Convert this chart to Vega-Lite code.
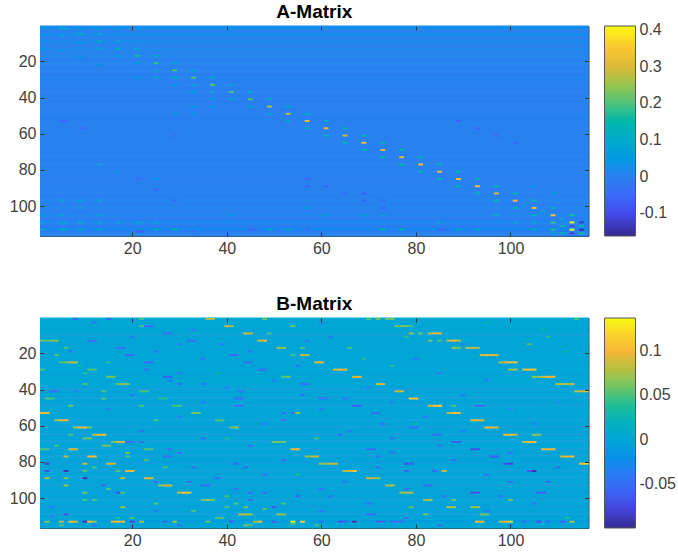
{
"$schema":"https://vega.github.io/schema/vega-lite/v6.json",
"padding":{"left":8,"top":2,"right":0,"bottom":0},
"background":"white",
"spacing":82,
"bounds":"flush",
"resolve":{"scale":{"color":"independent"}},
"config":{"view":{"stroke":"#3a3a3a","strokeWidth":1},"font":"Liberation Sans",
"axis":{"grid":false,"labelFont":"Liberation Sans","labelFontSize":16,"labelColor":"#404040","domain":false,"tickColor":"#333333","tickSize":-4,"labelPadding":8,"title":null,"labelAngle":0},
"legend":{"labelFont":"Liberation Sans","labelFontSize":16,"labelColor":"#404040"},
"title":{"font":"Liberation Sans","fontSize":19,"fontWeight":"bold","color":"#000000","offset":3}},
"datasets":{
"rowsA":[{"r":1,"v":0.02},{"r":2,"v":0.03},{"r":3,"v":0.01},{"r":4,"v":0.0},{"r":5,"v":0.02},{"r":6,"v":0.025},{"r":7,"v":0.005},{"r":8,"v":0.0},{"r":9,"v":0.02},{"r":10,"v":0.02},{"r":11,"v":0.005},{"r":12,"v":0.0},{"r":13,"v":0.015},{"r":14,"v":0.02},{"r":15,"v":0.005},{"r":16,"v":0.0},{"r":17,"v":0.015},{"r":18,"v":0.015},{"r":19,"v":0.0},{"r":20,"v":0.0},{"r":21,"v":0.015},{"r":22,"v":0.01},{"r":23,"v":0.0},{"r":24,"v":0.0},{"r":25,"v":0.01},{"r":26,"v":0.01},{"r":27,"v":0.0},{"r":28,"v":-0.005},{"r":29,"v":0.015},{"r":30,"v":0.005},{"r":31,"v":0.0},{"r":32,"v":-0.005},{"r":33,"v":0.01},{"r":34,"v":0.005},{"r":35,"v":0.0},{"r":36,"v":0.0},{"r":37,"v":0.01},{"r":38,"v":0.0},{"r":39,"v":-0.005},{"r":40,"v":0.0},{"r":41,"v":0.01},{"r":42,"v":0.0},{"r":43,"v":-0.005},{"r":44,"v":0.0},{"r":45,"v":0.005},{"r":46,"v":0.0},{"r":47,"v":0.0},{"r":48,"v":-0.005},{"r":49,"v":0.01},{"r":50,"v":0.0},{"r":51,"v":0.0},{"r":52,"v":0.0},{"r":53,"v":0.0},{"r":54,"v":0.0},{"r":55,"v":0.005},{"r":56,"v":0.0},{"r":57,"v":0.005},{"r":58,"v":0.0},{"r":59,"v":0.0},{"r":60,"v":0.0},{"r":61,"v":0.005},{"r":62,"v":0.0},{"r":63,"v":0.0},{"r":64,"v":0.0},{"r":65,"v":0.005},{"r":66,"v":0.0},{"r":67,"v":0.0},{"r":68,"v":0.005},{"r":69,"v":0.005},{"r":70,"v":0.0},{"r":71,"v":0.0},{"r":72,"v":0.0},{"r":73,"v":0.01},{"r":74,"v":0.0},{"r":75,"v":0.0},{"r":76,"v":0.0},{"r":77,"v":0.01},{"r":78,"v":0.0},{"r":79,"v":0.0},{"r":80,"v":0.0},{"r":81,"v":0.005},{"r":82,"v":0.0},{"r":83,"v":0.0},{"r":84,"v":-0.005},{"r":85,"v":0.0},{"r":86,"v":0.0},{"r":87,"v":0.0},{"r":88,"v":0.0},{"r":89,"v":0.005},{"r":90,"v":0.0},{"r":91,"v":-0.005},{"r":92,"v":0.005},{"r":93,"v":0.01},{"r":94,"v":0.0},{"r":95,"v":0.0},{"r":96,"v":0.0},{"r":97,"v":0.015},{"r":98,"v":0.005},{"r":99,"v":0.0},{"r":100,"v":0.0},{"r":101,"v":0.015},{"r":102,"v":0.005},{"r":103,"v":0.0},{"r":104,"v":0.0},{"r":105,"v":0.02},{"r":106,"v":0.005},{"r":107,"v":0.0},{"r":108,"v":-0.005},{"r":109,"v":0.025},{"r":110,"v":0.01},{"r":111,"v":0.0},{"r":112,"v":-0.01},{"r":113,"v":0.03},{"r":114,"v":-0.015},{"r":115,"v":0.01},{"r":116,"v":0.005}],
"cellsA":[
{"c":5,"r":1,"v":0.06},{"c":9,"r":5,"v":0.12},{"c":13,"r":9,"v":0.13},{"c":17,"r":13,"v":0.15},{"c":21,"r":17,"v":0.17},{"c":25,"r":21,"v":0.18},{"c":29,"r":25,"v":0.2},{"c":33,"r":29,"v":0.2},{"c":37,"r":33,"v":0.21},{"c":41,"r":37,"v":0.2},{"c":45,"r":41,"v":0.2},{"c":49,"r":45,"v":0.26},{"c":53,"r":49,"v":0.27},{"c":57,"r":53,"v":0.31},{"c":61,"r":57,"v":0.31},{"c":65,"r":61,"v":0.29},{"c":69,"r":65,"v":0.32},{"c":73,"r":69,"v":0.32},{"c":77,"r":73,"v":0.31},{"c":81,"r":77,"v":0.33},{"c":85,"r":81,"v":0.32},{"c":89,"r":85,"v":0.33},{"c":93,"r":89,"v":0.33},{"c":97,"r":93,"v":0.31},{"c":101,"r":97,"v":0.32},{"c":105,"r":101,"v":0.33},{"c":109,"r":105,"v":0.33},{"c":113,"r":109,"v":0.41},{"c":113,"r":113,"v":0.41},
{"c":13,"r":5,"v":0.07},{"c":17,"r":9,"v":0.07},{"c":21,"r":13,"v":0.1},{"c":25,"r":17,"v":0.1},{"c":29,"r":21,"v":0.08},{"c":33,"r":25,"v":0.09},{"c":37,"r":29,"v":0.1},{"c":41,"r":33,"v":0.08},{"c":45,"r":37,"v":0.1},{"c":49,"r":41,"v":0.1},{"c":53,"r":45,"v":0.11},{"c":57,"r":49,"v":0.11},{"c":61,"r":53,"v":0.12},{"c":65,"r":57,"v":0.14},{"c":69,"r":61,"v":0.14},{"c":73,"r":65,"v":0.13},{"c":77,"r":69,"v":0.14},{"c":81,"r":73,"v":0.14},{"c":85,"r":77,"v":0.14},{"c":89,"r":81,"v":0.14},{"c":93,"r":85,"v":0.13},{"c":97,"r":89,"v":0.14},{"c":101,"r":93,"v":0.14},{"c":105,"r":97,"v":0.15},{"c":109,"r":101,"v":0.14},{"c":113,"r":105,"v":0.17},
{"c":29,"r":29,"v":0.11},{"c":33,"r":33,"v":0.06},{"c":37,"r":37,"v":0.07},{"c":41,"r":41,"v":0.09},{"c":45,"r":45,"v":0.08},{"c":49,"r":49,"v":0.1},{"c":53,"r":53,"v":0.1},{"c":57,"r":57,"v":0.11},{"c":61,"r":61,"v":0.13},{"c":65,"r":65,"v":0.14},{"c":69,"r":69,"v":0.14},{"c":73,"r":73,"v":0.15},{"c":77,"r":77,"v":0.15},{"c":81,"r":81,"v":0.14},{"c":85,"r":85,"v":0.14},{"c":89,"r":89,"v":0.14},{"c":93,"r":93,"v":0.14},{"c":97,"r":97,"v":0.15},{"c":101,"r":101,"v":0.14},{"c":105,"r":105,"v":0.15},{"c":109,"r":109,"v":0.19},
{"c":109,"r":113,"v":0.17},{"c":105,"r":109,"v":0.1},{"c":105,"r":113,"v":0.12},{"c":111,"r":111,"v":0.14},{"c":111,"r":115,"v":0.14},{"c":107,"r":103,"v":0.09},{"c":103,"r":99,"v":0.08},{"c":115,"r":109,"v":-0.13},{"c":115,"r":111,"v":0.16},{"c":115,"r":113,"v":-0.15},{"c":115,"r":115,"v":0.17},{"c":113,"r":111,"v":-0.1},{"c":113,"r":115,"v":-0.12},{"c":111,"r":107,"v":0.07},{"c":109,"r":115,"v":0.08},
{"c":1,"r":2,"v":0.05},{"c":5,"r":2,"v":0.06},{"c":6,"r":2,"v":0.06},{"c":9,"r":2,"v":0.05},{"c":13,"r":2,"v":0.05},{"c":17,"r":2,"v":0.05},{"c":21,"r":2,"v":0.05},{"c":5,"r":6,"v":0.06},{"c":9,"r":10,"v":0.05},{"c":13,"r":13,"v":0.06},{"c":17,"r":17,"v":0.05},{"c":21,"r":21,"v":0.05},{"c":25,"r":25,"v":0.06},{"c":5,"r":14,"v":0.05},{"c":1,"r":13,"v":0.04},{"c":9,"r":18,"v":0.04},{"c":13,"r":22,"v":0.04},{"c":21,"r":29,"v":0.05},{"c":25,"r":29,"v":0.06},{"c":29,"r":33,"v":0.05},{"c":33,"r":37,"v":0.05},{"c":37,"r":41,"v":0.05},{"c":37,"r":45,"v":0.05},{"c":33,"r":45,"v":0.05},{"c":29,"r":49,"v":0.05},{"c":33,"r":49,"v":0.05},{"c":13,"r":77,"v":0.07},{"c":17,"r":81,"v":0.05},{"c":25,"r":85,"v":0.04},
{"c":1,"r":105,"v":0.05},{"c":5,"r":97,"v":0.07},{"c":5,"r":105,"v":0.06},{"c":9,"r":97,"v":0.08},{"c":9,"r":101,"v":0.06},{"c":13,"r":97,"v":0.07},{"c":13,"r":105,"v":0.06},{"c":1,"r":109,"v":0.06},{"c":5,"r":109,"v":0.08},{"c":6,"r":109,"v":0.06},{"c":9,"r":109,"v":0.07},{"c":13,"r":109,"v":0.07},{"c":17,"r":109,"v":0.06},{"c":21,"r":109,"v":0.08},{"c":22,"r":109,"v":0.07},{"c":25,"r":109,"v":0.08},{"c":1,"r":113,"v":0.07},{"c":5,"r":113,"v":0.09},{"c":6,"r":113,"v":0.08},{"c":9,"r":113,"v":0.09},{"c":13,"r":113,"v":0.08},{"c":25,"r":113,"v":0.12},{"c":29,"r":113,"v":0.14},{"c":49,"r":113,"v":0.1},{"c":53,"r":113,"v":0.08},{"c":73,"r":113,"v":0.13},{"c":77,"r":113,"v":0.13},{"c":89,"r":113,"v":0.08},
{"c":21,"r":114,"v":-0.06},{"c":22,"r":114,"v":-0.07},{"c":33,"r":114,"v":-0.05},{"c":45,"r":113,"v":-0.05},{"c":46,"r":113,"v":-0.05},{"c":57,"r":113,"v":-0.05},{"c":85,"r":113,"v":-0.06},{"c":86,"r":113,"v":-0.06},
{"c":5,"r":53,"v":-0.05},{"c":6,"r":53,"v":-0.05},{"c":9,"r":57,"v":-0.04},{"c":10,"r":57,"v":-0.04},{"c":29,"r":61,"v":-0.03},{"c":57,"r":89,"v":-0.06},{"c":61,"r":89,"v":-0.06},{"c":57,"r":85,"v":-0.05},{"c":65,"r":93,"v":-0.05},{"c":69,"r":93,"v":-0.07},{"c":69,"r":97,"v":-0.06},{"c":73,"r":97,"v":-0.05},{"c":73,"r":101,"v":-0.05},{"c":89,"r":53,"v":-0.07},{"c":93,"r":57,"v":-0.06},{"c":97,"r":61,"v":-0.05},{"c":101,"r":65,"v":-0.05},{"c":21,"r":85,"v":-0.05},{"c":25,"r":91,"v":-0.05},{"c":29,"r":97,"v":-0.04},{"c":105,"r":89,"v":0.05},{"c":109,"r":93,"v":0.05},{"c":57,"r":101,"v":0.05},{"c":61,"r":105,"v":0.05},{"c":41,"r":105,"v":0.05},{"c":69,"r":105,"v":0.05},{"c":73,"r":105,"v":0.06},{"c":97,"r":105,"v":0.07},{"c":101,"r":109,"v":0.07},{"c":85,"r":109,"v":0.06},{"c":93,"r":113,"v":0.09}
],
"rowsB":[{"r":1,"v":0.008},{"r":2,"v":0.0},{"r":3,"v":0.004},{"r":4,"v":0.002},{"r":5,"v":0.004},{"r":6,"v":0.0},{"r":7,"v":0.002},{"r":8,"v":0.0},{"r":9,"v":0.006},{"r":10,"v":-0.004},{"r":11,"v":0.002},{"r":12,"v":0.0},{"r":13,"v":0.004},{"r":14,"v":0.002},{"r":15,"v":-0.002},{"r":16,"v":0.0},{"r":17,"v":0.006},{"r":18,"v":-0.002},{"r":19,"v":0.002},{"r":20,"v":0.0},{"r":21,"v":0.002},{"r":22,"v":0.002},{"r":23,"v":0.0},{"r":24,"v":0.0},{"r":25,"v":0.004},{"r":26,"v":-0.002},{"r":27,"v":0.002},{"r":28,"v":0.0},{"r":29,"v":0.004},{"r":30,"v":0.002},{"r":31,"v":0.0},{"r":32,"v":-0.002},{"r":33,"v":0.006},{"r":34,"v":0.0},{"r":35,"v":0.002},{"r":36,"v":0.0},{"r":37,"v":0.004},{"r":38,"v":0.002},{"r":39,"v":0.0},{"r":40,"v":-0.006},{"r":41,"v":0.002},{"r":42,"v":0.0},{"r":43,"v":0.002},{"r":44,"v":0.0},{"r":45,"v":-0.004},{"r":46,"v":0.002},{"r":47,"v":0.0},{"r":48,"v":0.0},{"r":49,"v":-0.004},{"r":50,"v":0.002},{"r":51,"v":0.0},{"r":52,"v":0.0},{"r":53,"v":0.004},{"r":54,"v":0.0},{"r":55,"v":0.002},{"r":56,"v":0.0},{"r":57,"v":-0.004},{"r":58,"v":0.002},{"r":59,"v":0.0},{"r":60,"v":0.0},{"r":61,"v":-0.004},{"r":62,"v":0.002},{"r":63,"v":0.0},{"r":64,"v":0.0},{"r":65,"v":-0.006},{"r":66,"v":0.0},{"r":67,"v":0.002},{"r":68,"v":0.0},{"r":69,"v":-0.006},{"r":70,"v":0.002},{"r":71,"v":0.0},{"r":72,"v":0.002},{"r":73,"v":-0.006},{"r":74,"v":0.002},{"r":75,"v":0.0},{"r":76,"v":0.0},{"r":77,"v":-0.006},{"r":78,"v":0.002},{"r":79,"v":0.0},{"r":80,"v":0.0},{"r":81,"v":-0.008},{"r":82,"v":0.002},{"r":83,"v":0.0},{"r":84,"v":0.0},{"r":85,"v":-0.006},{"r":86,"v":0.002},{"r":87,"v":0.0},{"r":88,"v":0.002},{"r":89,"v":-0.006},{"r":90,"v":0.0},{"r":91,"v":0.002},{"r":92,"v":0.0},{"r":93,"v":-0.006},{"r":94,"v":0.004},{"r":95,"v":0.0},{"r":96,"v":0.002},{"r":97,"v":-0.008},{"r":98,"v":0.002},{"r":99,"v":0.0},{"r":100,"v":0.0},{"r":101,"v":-0.006},{"r":102,"v":0.002},{"r":103,"v":0.0},{"r":104,"v":0.0},{"r":105,"v":-0.008},{"r":106,"v":0.002},{"r":107,"v":0.0},{"r":108,"v":0.0},{"r":109,"v":-0.006},{"r":110,"v":0.002},{"r":111,"v":0.0},{"r":112,"v":0.0},{"r":113,"v":-0.012},{"r":114,"v":0.004},{"r":115,"v":0.002},{"r":116,"v":0.0}],
"cellsB":[
{"c":36,"r":1,"v":0.08},{"c":37,"r":1,"v":0.08},{"c":48,"r":1,"v":0.06},{"c":22,"r":1,"v":0.05},{"c":8,"r":1,"v":-0.05},{"c":15,"r":1,"v":-0.05},{"c":70,"r":1,"v":0.05},{"c":72,"r":1,"v":0.06},{"c":74,"r":1,"v":0.06},{"c":75,"r":1,"v":0.06},{"c":114,"r":1,"v":0.05},
{"c":22,"r":5,"v":0.05},{"c":23,"r":5,"v":-0.05},{"c":24,"r":5,"v":-0.05},{"c":40,"r":5,"v":0.08},{"c":41,"r":5,"v":0.07},{"c":54,"r":5,"v":0.06},{"c":76,"r":5,"v":0.06},{"c":77,"r":5,"v":0.06},{"c":78,"r":5,"v":0.06},{"c":79,"r":5,"v":0.05},
{"c":44,"r":9,"v":0.09},{"c":45,"r":9,"v":0.08},{"c":27,"r":9,"v":-0.05},{"c":28,"r":9,"v":-0.05},{"c":49,"r":9,"v":0.05},{"c":79,"r":9,"v":0.07},{"c":81,"r":9,"v":0.06},{"c":83,"r":9,"v":0.08},{"c":84,"r":9,"v":0.1},{"c":85,"r":9,"v":0.09},
{"c":1,"r":13,"v":0.06},{"c":2,"r":13,"v":0.05},{"c":3,"r":13,"v":0.06},{"c":4,"r":13,"v":0.06},{"c":47,"r":13,"v":0.09},{"c":48,"r":13,"v":0.1},{"c":32,"r":13,"v":-0.05},{"c":33,"r":13,"v":-0.05},{"c":11,"r":13,"v":-0.05},{"c":12,"r":13,"v":-0.05},{"c":83,"r":13,"v":0.06},{"c":85,"r":13,"v":0.05},{"c":87,"r":13,"v":0.09},{"c":88,"r":13,"v":0.1},{"c":89,"r":13,"v":0.09},{"c":57,"r":13,"v":-0.04},
{"c":91,"r":17,"v":0.08},{"c":92,"r":17,"v":0.09},{"c":93,"r":17,"v":0.08},{"c":88,"r":17,"v":0.07},{"c":89,"r":17,"v":0.06},{"c":51,"r":17,"v":0.07},{"c":52,"r":17,"v":0.07},{"c":56,"r":17,"v":0.05},{"c":17,"r":17,"v":-0.05},{"c":18,"r":17,"v":-0.05},{"c":6,"r":17,"v":0.05},{"c":66,"r":17,"v":0.05},
{"c":4,"r":21,"v":0.05},{"c":19,"r":21,"v":-0.05},{"c":20,"r":21,"v":-0.05},{"c":56,"r":21,"v":0.09},{"c":57,"r":21,"v":0.08},{"c":54,"r":21,"v":0.05},{"c":95,"r":21,"v":0.1},{"c":96,"r":21,"v":0.1},{"c":94,"r":21,"v":0.09},{"c":97,"r":21,"v":0.09},{"c":41,"r":21,"v":-0.05},{"c":42,"r":21,"v":-0.05},
{"c":5,"r":25,"v":0.05},{"c":6,"r":25,"v":0.06},{"c":7,"r":25,"v":0.08},{"c":8,"r":25,"v":0.08},{"c":59,"r":25,"v":0.09},{"c":60,"r":25,"v":0.1},{"c":23,"r":25,"v":-0.05},{"c":24,"r":25,"v":-0.05},{"c":99,"r":25,"v":0.09},{"c":100,"r":25,"v":0.11},{"c":101,"r":25,"v":0.11},{"c":98,"r":25,"v":0.08},{"c":15,"r":25,"v":0.04},{"c":44,"r":25,"v":-0.05},{"c":45,"r":25,"v":-0.05},
{"c":1,"r":29,"v":0.05},{"c":63,"r":29,"v":0.09},{"c":64,"r":29,"v":0.1},{"c":65,"r":29,"v":0.1},{"c":103,"r":29,"v":0.1},{"c":104,"r":29,"v":0.11},{"c":105,"r":29,"v":0.11},{"c":100,"r":29,"v":0.07},{"c":101,"r":29,"v":0.08},{"c":11,"r":29,"v":0.05},{"c":12,"r":29,"v":0.05},{"c":23,"r":29,"v":-0.05},{"c":47,"r":29,"v":-0.05},{"c":48,"r":29,"v":-0.05},
{"c":68,"r":33,"v":0.1},{"c":67,"r":33,"v":0.09},{"c":108,"r":33,"v":0.1},{"c":109,"r":33,"v":0.1},{"c":107,"r":33,"v":0.09},{"c":106,"r":33,"v":0.07},{"c":105,"r":33,"v":0.07},{"c":15,"r":33,"v":0.06},{"c":16,"r":33,"v":0.06},{"c":27,"r":33,"v":-0.06},{"c":28,"r":33,"v":-0.06},{"c":52,"r":33,"v":0.05},{"c":53,"r":33,"v":0.06},
{"c":17,"r":37,"v":0.06},{"c":18,"r":37,"v":0.07},{"c":19,"r":37,"v":0.06},{"c":72,"r":37,"v":0.08},{"c":73,"r":37,"v":0.09},{"c":112,"r":37,"v":0.08},{"c":113,"r":37,"v":0.09},{"c":111,"r":37,"v":0.08},{"c":110,"r":37,"v":0.08},{"c":10,"r":37,"v":0.05},{"c":30,"r":37,"v":-0.05},{"c":35,"r":37,"v":-0.05},{"c":56,"r":37,"v":-0.05},{"c":57,"r":37,"v":-0.05},
{"c":76,"r":41,"v":0.09},{"c":77,"r":41,"v":0.09},{"c":116,"r":41,"v":0.1},{"c":115,"r":41,"v":0.09},{"c":114,"r":41,"v":0.08},{"c":22,"r":41,"v":0.05},{"c":23,"r":41,"v":0.05},{"c":14,"r":41,"v":0.05},{"c":3,"r":41,"v":-0.05},{"c":4,"r":41,"v":-0.05},{"c":43,"r":41,"v":-0.05},{"c":8,"r":41,"v":-0.04},
{"c":80,"r":45,"v":0.11},{"c":79,"r":45,"v":0.11},{"c":2,"r":45,"v":0.05},{"c":3,"r":45,"v":0.05},{"c":60,"r":45,"v":-0.05},{"c":61,"r":45,"v":-0.05},{"c":42,"r":45,"v":-0.05},{"c":43,"r":45,"v":-0.05},{"c":26,"r":45,"v":0.04},{"c":27,"r":45,"v":0.04},{"c":14,"r":45,"v":0.05},{"c":65,"r":45,"v":-0.05},
{"c":84,"r":49,"v":0.11},{"c":83,"r":49,"v":0.09},{"c":85,"r":49,"v":0.12},{"c":88,"r":49,"v":0.05},{"c":67,"r":49,"v":-0.06},{"c":68,"r":49,"v":-0.06},{"c":93,"r":49,"v":-0.05},{"c":94,"r":49,"v":-0.05},{"c":7,"r":49,"v":0.06},{"c":22,"r":49,"v":0.05},{"c":29,"r":49,"v":0.05},{"c":30,"r":49,"v":0.05},{"c":42,"r":49,"v":-0.05},{"c":43,"r":49,"v":-0.05},
{"c":1,"r":53,"v":0.1},{"c":2,"r":53,"v":0.1},{"c":88,"r":53,"v":0.1},{"c":89,"r":53,"v":0.1},{"c":87,"r":53,"v":0.08},{"c":33,"r":53,"v":0.06},{"c":34,"r":53,"v":0.06},{"c":52,"r":53,"v":-0.05},{"c":54,"r":53,"v":-0.05},{"c":55,"r":53,"v":0.07},{"c":71,"r":53,"v":-0.05},{"c":72,"r":53,"v":-0.05},
{"c":5,"r":57,"v":0.1},{"c":6,"r":57,"v":0.1},{"c":4,"r":57,"v":0.07},{"c":92,"r":57,"v":0.09},{"c":93,"r":57,"v":0.1},{"c":94,"r":57,"v":0.09},{"c":38,"r":57,"v":0.05},{"c":39,"r":57,"v":0.05},{"c":52,"r":57,"v":-0.05},{"c":25,"r":57,"v":0.05},
{"c":9,"r":61,"v":0.1},{"c":10,"r":61,"v":0.1},{"c":8,"r":61,"v":0.07},{"c":96,"r":61,"v":0.1},{"c":97,"r":61,"v":0.09},{"c":95,"r":61,"v":0.1},{"c":41,"r":61,"v":0.06},{"c":42,"r":61,"v":0.07},{"c":11,"r":61,"v":0.06},{"c":80,"r":61,"v":-0.05},{"c":79,"r":61,"v":-0.05},
{"c":13,"r":65,"v":0.11},{"c":14,"r":65,"v":0.11},{"c":12,"r":65,"v":0.08},{"c":100,"r":65,"v":0.11},{"c":99,"r":65,"v":0.1},{"c":101,"r":65,"v":0.09},{"c":105,"r":65,"v":0.07},{"c":106,"r":65,"v":0.07},{"c":7,"r":65,"v":0.05},{"c":84,"r":65,"v":-0.05},{"c":85,"r":65,"v":-0.05},{"c":64,"r":65,"v":-0.05},
{"c":17,"r":69,"v":0.09},{"c":18,"r":69,"v":0.09},{"c":16,"r":69,"v":0.06},{"c":104,"r":69,"v":0.1},{"c":105,"r":69,"v":0.1},{"c":103,"r":69,"v":0.08},{"c":50,"r":69,"v":0.06},{"c":51,"r":69,"v":0.06},{"c":52,"r":69,"v":0.06},{"c":19,"r":69,"v":-0.05},{"c":20,"r":69,"v":-0.05},{"c":22,"r":69,"v":-0.05},{"c":88,"r":69,"v":-0.06},{"c":89,"r":69,"v":-0.06},
{"c":7,"r":73,"v":0.09},{"c":8,"r":73,"v":0.09},{"c":1,"r":73,"v":0.05},{"c":2,"r":73,"v":0.05},{"c":54,"r":73,"v":0.1},{"c":55,"r":73,"v":0.1},{"c":108,"r":73,"v":0.1},{"c":109,"r":73,"v":0.1},{"c":107,"r":73,"v":0.1},{"c":23,"r":73,"v":0.05},{"c":24,"r":73,"v":0.05},{"c":70,"r":73,"v":-0.05},{"c":71,"r":73,"v":-0.05},{"c":92,"r":73,"v":-0.07},{"c":93,"r":73,"v":-0.07},{"c":28,"r":73,"v":-0.05},
{"c":11,"r":77,"v":0.1},{"c":12,"r":77,"v":0.1},{"c":6,"r":77,"v":0.08},{"c":58,"r":77,"v":0.08},{"c":59,"r":77,"v":0.09},{"c":57,"r":77,"v":0.07},{"c":112,"r":77,"v":0.1},{"c":113,"r":77,"v":0.1},{"c":111,"r":77,"v":0.09},{"c":19,"r":77,"v":0.05},{"c":27,"r":77,"v":-0.05},{"c":28,"r":77,"v":-0.05},{"c":96,"r":77,"v":-0.06},{"c":97,"r":77,"v":-0.06},{"c":72,"r":77,"v":-0.05},
{"c":15,"r":81,"v":0.09},{"c":16,"r":81,"v":0.09},{"c":10,"r":81,"v":0.09},{"c":2,"r":81,"v":-0.08},{"c":116,"r":81,"v":0.12},{"c":115,"r":81,"v":0.11},{"c":62,"r":81,"v":0.09},{"c":63,"r":81,"v":0.08},{"c":60,"r":81,"v":0.07},{"c":61,"r":81,"v":0.07},{"c":42,"r":81,"v":-0.05},{"c":100,"r":81,"v":-0.08},{"c":99,"r":81,"v":-0.07},{"c":78,"r":81,"v":-0.07},{"c":79,"r":81,"v":-0.06},
{"c":19,"r":85,"v":0.1},{"c":20,"r":85,"v":0.1},{"c":6,"r":85,"v":-0.09},{"c":2,"r":85,"v":-0.07},{"c":66,"r":85,"v":0.09},{"c":67,"r":85,"v":0.11},{"c":65,"r":85,"v":0.08},{"c":17,"r":85,"v":0.05},{"c":105,"r":85,"v":-0.09},{"c":104,"r":85,"v":-0.07},{"c":84,"r":85,"v":-0.06},{"c":86,"r":85,"v":0.09},{"c":78,"r":85,"v":-0.06},{"c":10,"r":85,"v":0.05},
{"c":23,"r":89,"v":0.09},{"c":24,"r":89,"v":0.09},{"c":2,"r":89,"v":0.08},{"c":10,"r":89,"v":-0.09},{"c":18,"r":89,"v":0.08},{"c":70,"r":89,"v":0.09},{"c":71,"r":89,"v":0.08},{"c":72,"r":89,"v":0.07},{"c":6,"r":89,"v":0.06},{"c":38,"r":89,"v":-0.05},
{"c":27,"r":93,"v":0.09},{"c":28,"r":93,"v":0.09},{"c":26,"r":93,"v":0.07},{"c":6,"r":93,"v":0.07},{"c":14,"r":93,"v":-0.06},{"c":35,"r":93,"v":-0.05},{"c":36,"r":93,"v":-0.05},{"c":74,"r":93,"v":0.07},{"c":75,"r":93,"v":0.08},{"c":82,"r":93,"v":-0.05},{"c":83,"r":93,"v":-0.05},
{"c":31,"r":97,"v":0.11},{"c":32,"r":97,"v":0.11},{"c":30,"r":97,"v":0.09},{"c":10,"r":97,"v":0.06},{"c":17,"r":97,"v":-0.07},{"c":18,"r":97,"v":0.05},{"c":78,"r":97,"v":0.08},{"c":79,"r":97,"v":0.08},{"c":77,"r":97,"v":0.07},{"c":92,"r":97,"v":-0.07},{"c":93,"r":97,"v":-0.07},{"c":45,"r":97,"v":-0.05},{"c":48,"r":97,"v":-0.05},{"c":106,"r":97,"v":-0.06},{"c":107,"r":97,"v":-0.06},
{"c":35,"r":101,"v":0.06},{"c":36,"r":101,"v":0.07},{"c":37,"r":101,"v":0.06},{"c":83,"r":101,"v":0.08},{"c":82,"r":101,"v":0.07},{"c":88,"r":101,"v":0.06},{"c":12,"r":101,"v":0.05},{"c":10,"r":101,"v":0.05},{"c":45,"r":101,"v":-0.05},{"c":100,"r":101,"v":0.06},
{"c":44,"r":105,"v":0.06},{"c":3,"r":105,"v":-0.04},{"c":18,"r":105,"v":0.07},{"c":50,"r":105,"v":-0.06},{"c":87,"r":105,"v":0.08},{"c":88,"r":105,"v":0.08},{"c":92,"r":105,"v":0.07},{"c":93,"r":105,"v":0.08},{"c":79,"r":105,"v":0.06},{"c":40,"r":105,"v":0.05},
{"c":43,"r":109,"v":0.09},{"c":44,"r":109,"v":0.08},{"c":45,"r":109,"v":0.07},{"c":6,"r":109,"v":-0.07},{"c":51,"r":109,"v":0.07},{"c":52,"r":109,"v":0.07},{"c":82,"r":109,"v":0.06},{"c":94,"r":109,"v":0.06},{"c":95,"r":109,"v":0.06},{"c":70,"r":109,"v":-0.05},{"c":71,"r":109,"v":-0.05},
{"c":2,"r":113,"v":0.07},{"c":5,"r":113,"v":0.08},{"c":7,"r":113,"v":0.11},{"c":8,"r":113,"v":0.09},{"c":10,"r":113,"v":-0.09},{"c":11,"r":113,"v":0.1},{"c":12,"r":113,"v":0.07},{"c":16,"r":113,"v":0.1},{"c":17,"r":113,"v":0.11},{"c":18,"r":113,"v":0.1},{"c":20,"r":113,"v":-0.08},{"c":22,"r":113,"v":0.08},{"c":27,"r":113,"v":-0.06},{"c":29,"r":113,"v":0.07},{"c":36,"r":113,"v":0.06},{"c":41,"r":113,"v":-0.06},{"c":47,"r":113,"v":0.1},{"c":46,"r":113,"v":0.07},{"c":50,"r":113,"v":-0.06},{"c":54,"r":113,"v":0.135},{"c":56,"r":113,"v":0.12},{"c":60,"r":113,"v":-0.05},{"c":64,"r":113,"v":-0.07},{"c":65,"r":113,"v":-0.06},{"c":67,"r":113,"v":-0.09},{"c":72,"r":113,"v":-0.06},{"c":73,"r":113,"v":-0.06},{"c":75,"r":113,"v":-0.05},{"c":76,"r":113,"v":-0.05},{"c":77,"r":113,"v":-0.05},{"c":93,"r":113,"v":0.1},{"c":94,"r":113,"v":0.1},{"c":99,"r":113,"v":0.1},{"c":100,"r":113,"v":0.12},{"c":98,"r":113,"v":0.08},{"c":106,"r":113,"v":-0.07},{"c":103,"r":113,"v":-0.05},{"c":111,"r":113,"v":-0.06},{"c":113,"r":113,"v":0.08},{"c":108,"r":113,"v":-0.05},
{"c":44,"r":115,"v":0.06},{"c":45,"r":115,"v":0.05},{"c":59,"r":115,"v":0.05},{"c":5,"r":115,"v":0.05},{"c":30,"r":115,"v":-0.05},{"c":54,"r":114,"v":0.06},{"c":17,"r":111,"v":0.04},{"c":38,"r":111,"v":0.05},{"c":39,"r":111,"v":0.05},{"c":3,"r":110,"v":-0.04},{"c":25,"r":107,"v":-0.04},{"c":48,"r":106,"v":0.05},{"c":52,"r":103,"v":0.05},{"c":40,"r":99,"v":0.05},{"c":42,"r":103,"v":0.05},{"c":15,"r":95,"v":0.05},{"c":60,"r":95,"v":-0.05},{"c":32,"r":91,"v":-0.05},{"c":62,"r":99,"v":-0.05},{"c":100,"r":91,"v":-0.05},{"c":86,"r":99,"v":-0.05},{"c":55,"r":87,"v":0.04},{"c":44,"r":83,"v":-0.05},{"c":12,"r":83,"v":0.05},{"c":75,"r":75,"v":-0.04},{"c":19,"r":75,"v":0.06},{"c":23,"r":79,"v":0.05},{"c":27,"r":83,"v":0.05},{"c":40,"r":67,"v":0.04},{"c":59,"r":67,"v":0.05},{"c":10,"r":67,"v":0.06},{"c":11,"r":67,"v":0.06},{"c":14,"r":71,"v":0.06},{"c":15,"r":71,"v":0.06},{"c":4,"r":71,"v":0.05},{"c":80,"r":59,"v":0.03},{"c":73,"r":59,"v":-0.05},{"c":56,"r":43,"v":-0.05},{"c":28,"r":35,"v":-0.05},{"c":10,"r":31,"v":0.04},{"c":38,"r":31,"v":0.03},{"c":7,"r":19,"v":-0.04},{"c":30,"r":15,"v":-0.04},{"c":69,"r":23,"v":0.04},{"c":75,"r":27,"v":0.04},{"c":78,"r":11,"v":0.04},{"c":104,"r":15,"v":0.05},{"c":108,"r":11,"v":0.04},{"c":107,"r":7,"v":0.03},
{"c":12,"r":3,"v":-0.04},{"c":33,"r":7,"v":-0.04},{"c":60,"r":3,"v":-0.03},{"c":95,"r":3,"v":0.03},{"c":20,"r":11,"v":-0.04},{"c":62,"r":11,"v":-0.04},{"c":39,"r":15,"v":-0.04},{"c":90,"r":15,"v":-0.03},{"c":25,"r":19,"v":-0.04},{"c":45,"r":19,"v":-0.04},{"c":112,"r":19,"v":0.03},{"c":35,"r":23,"v":-0.04},{"c":80,"r":23,"v":-0.04},{"c":9,"r":27,"v":0.03},{"c":55,"r":27,"v":-0.04},{"c":30,"r":31,"v":-0.04},{"c":85,"r":31,"v":-0.04},{"c":50,"r":35,"v":-0.04},{"c":95,"r":35,"v":-0.04},{"c":40,"r":39,"v":-0.04},{"c":70,"r":39,"v":-0.03},{"c":20,"r":43,"v":-0.04},{"c":90,"r":43,"v":-0.04},{"c":35,"r":47,"v":-0.04},{"c":75,"r":47,"v":-0.04},{"c":110,"r":47,"v":-0.03},{"c":15,"r":51,"v":-0.04},{"c":60,"r":51,"v":-0.04},{"c":100,"r":51,"v":-0.03},{"c":30,"r":55,"v":-0.04},{"c":82,"r":55,"v":-0.04},{"c":48,"r":59,"v":-0.04},{"c":105,"r":59,"v":-0.04},{"c":22,"r":63,"v":-0.05},{"c":66,"r":63,"v":-0.04},{"c":90,"r":63,"v":-0.04},{"c":35,"r":67,"v":-0.05},{"c":75,"r":67,"v":-0.05},{"c":45,"r":71,"v":-0.05},{"c":85,"r":71,"v":-0.05},{"c":30,"r":75,"v":-0.05},{"c":100,"r":75,"v":-0.05},{"c":52,"r":79,"v":-0.05},{"c":88,"r":79,"v":-0.05},{"c":33,"r":83,"v":-0.05},{"c":72,"r":83,"v":-0.05},{"c":110,"r":83,"v":-0.05},{"c":48,"r":87,"v":-0.05},{"c":95,"r":87,"v":-0.05},{"c":25,"r":91,"v":-0.05},{"c":65,"r":91,"v":-0.05},{"c":108,"r":91,"v":-0.05},{"c":42,"r":95,"v":-0.05},{"c":78,"r":95,"v":-0.05},{"c":55,"r":99,"v":-0.06},{"c":98,"r":99,"v":-0.05},{"c":25,"r":103,"v":0.05},{"c":70,"r":103,"v":-0.05},{"c":105,"r":103,"v":-0.05},{"c":33,"r":107,"v":0.05},{"c":60,"r":107,"v":-0.05},{"c":95,"r":107,"v":-0.05},{"c":20,"r":111,"v":0.05},{"c":78,"r":111,"v":-0.05},{"c":112,"r":111,"v":0.04},{"c":12,"r":115,"v":-0.05},{"c":85,"r":115,"v":-0.05},{"c":100,"r":115,"v":-0.04}
]
},
"vconcat":[
{"width":548.5,"height":210,"title":"A-Matrix","view":{"fill":"#2a7cee"},"layer":[
{"data":{"name":"rowsA"},"mark":{"type":"rect","height":3},"encoding":{"y":{"field":"r","type":"quantitative","scale":{"domain":[0.5,116.5],"reverse":true,"nice":false,"zero":false},"axis":null},"color":{"field":"v","type":"quantitative","scale":{"domain":[-0.162,-0.105,-0.047,0.01,0.067,0.124,0.182,0.239,0.296,0.325,0.354,0.411],"range":["#352a90","#4648e8","#3a6cf8","#2a85ee","#1ca0dc","#0db0bc","#30c08c","#88c658","#d8b83a","#fdb638","#f8c830","#f9fb14"]},"legend":{"orient":"none","legendX":564.5,"legendY":0,"title":null,"gradientLength":210,"gradientThickness":31,"gradientStrokeColor":"#555555","gradientStrokeWidth":1,"values":[-0.1,0,0.1,0.2,0.3,0.4],"labelExpr":"'' + datum.value","labelOffset":4}}}},
{"data":{"name":"cellsA"},"mark":{"type":"rect","width":4.8,"height":2},"encoding":{"x":{"field":"c","type":"quantitative","scale":{"domain":[0.5,116.5],"nice":false,"zero":false},"axis":{"orient":"bottom","zindex":1,"values":[20,40,60,80,100]}},"y":{"field":"r","type":"quantitative","axis":{"orient":"left","zindex":1,"values":[20,40,60,80,100]}},"color":{"field":"v","type":"quantitative"}}},
{"data":{"name":"cellsA"},"mark":{"type":"rect","width":1,"height":1,"opacity":0},"encoding":{"x":{"field":"c","type":"quantitative","axis":{"orient":"top","zindex":1,"values":[20,40,60,80,100],"labels":false}},"y":{"field":"r","type":"quantitative","axis":{"orient":"right","zindex":1,"values":[20,40,60,80,100],"labels":false}}}}
],"resolve":{"axis":{"x":"independent","y":"independent"}}},
{"width":548.5,"height":210,"title":"B-Matrix","view":{"fill":"#1aa6d2"},"layer":[
{"data":{"name":"rowsB"},"mark":{"type":"rect","height":3},"encoding":{"y":{"field":"r","type":"quantitative","scale":{"domain":[0.5,116.5],"reverse":true,"nice":false,"zero":false},"axis":null},"color":{"field":"v","type":"quantitative","scale":{"domain":[-0.0997,-0.076,-0.0523,-0.0286,-0.0049,0.0188,0.0425,0.0662,0.09,0.1019,0.1138,0.1375],"range":["#352a90","#4648e8","#3a6cf8","#2a85ee","#1ca0dc","#0db0bc","#30c08c","#88c658","#d8b83a","#fdb638","#f8c830","#f9fb14"]},"legend":{"orient":"none","legendX":564.5,"legendY":0,"title":null,"gradientLength":210,"gradientThickness":31,"gradientStrokeColor":"#555555","gradientStrokeWidth":1,"values":[-0.05,0,0.05,0.1],"labelExpr":"'' + datum.value","labelOffset":4}}}},
{"data":{"name":"cellsB"},"mark":{"type":"rect","width":4.8,"height":2},"encoding":{"x":{"field":"c","type":"quantitative","scale":{"domain":[0.5,116.5],"nice":false,"zero":false},"axis":{"orient":"bottom","zindex":1,"values":[20,40,60,80,100]}},"y":{"field":"r","type":"quantitative","axis":{"orient":"left","zindex":1,"values":[20,40,60,80,100]}},"color":{"field":"v","type":"quantitative"}}},
{"data":{"name":"cellsB"},"mark":{"type":"rect","width":1,"height":1,"opacity":0},"encoding":{"x":{"field":"c","type":"quantitative","axis":{"orient":"top","zindex":1,"values":[20,40,60,80,100],"labels":false}},"y":{"field":"r","type":"quantitative","axis":{"orient":"right","zindex":1,"values":[20,40,60,80,100],"labels":false}}}}
],"resolve":{"axis":{"x":"independent","y":"independent"}}}
]
}
